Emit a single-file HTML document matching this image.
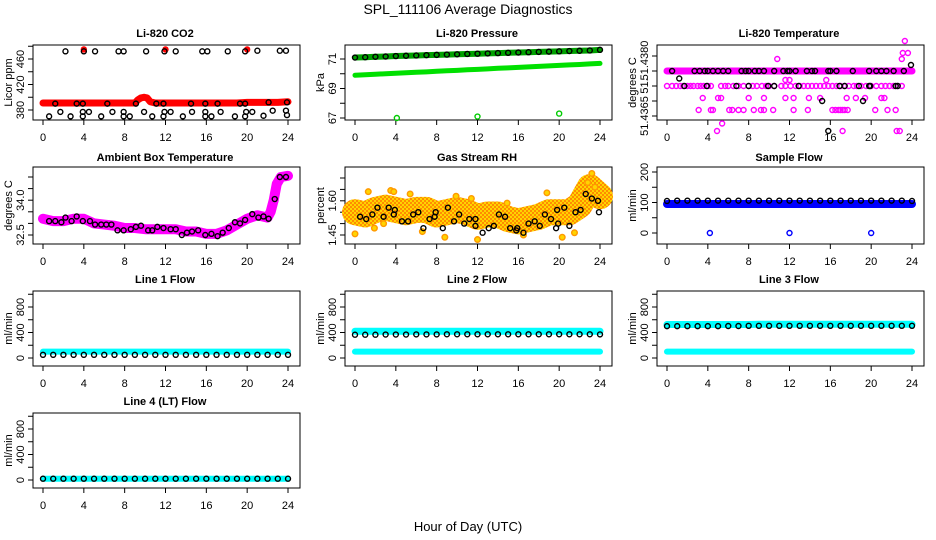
<!DOCTYPE html>
<html><head><meta charset="utf-8"><style>
html,body{margin:0;padding:0;background:#fff;}
svg{display:block;font-family:"Liberation Sans",Arial,sans-serif;}
</style></head><body>
<svg id="chart" width="936" height="540" viewBox="0 0 936 540" xmlns="http://www.w3.org/2000/svg">
<defs>
<pattern id="rhpat" width="4" height="4" patternUnits="userSpaceOnUse">
<rect width="4" height="4" fill="#ffd400"/><rect width="2" height="2" fill="#ff8c00"/><rect x="2" y="2" width="2" height="2" fill="#ff8c00"/>
</pattern>
</defs>
<text x="468" y="14" font-size="14" text-anchor="middle">SPL_111106  Average Diagnostics</text>
<text x="468" y="531" font-size="13" text-anchor="middle">Hour of Day (UTC)</text>
</svg>
<script>
// ---- data ----
const xTicks=[0,4,8,12,16,20,24];
// CO2
const co2BandHours=[0,1,2,3,4,5,6,7,8,9,9.3,9.6,9.9,10.2,10.5,11,12,13,14,15,16,17,18,19,20,21,22,23,24];
const co2BandVals=[391,391,391,391,391,391,391,391,391,391,396,399,400,399,393,391,391,391,391,391,391,391,391,391,392,392,392,392,393];
const co2DotHours=[2.2,4,5.1,7.4,7.9,10.1,11.9,13,15.6,16.1,18.1,19.8,21,23.2,23.8, 1.2,3.3,3.9,6.3,9.1,11.1,11.8,14.5,15.9,17.1,19.3,19.8,22.1,23.9, 1.7,3.9,4.5,6.8,7.9,9.9,11.9,12.5,14.6,15.9,17.4,19.9,20.5,22.5,23.8, 0.6,2.7,3.9,5.7,7.9,8.5,10.7,11.8,13.7,15.9,16.5,18.8,19.8,21.6,23.9];
const co2DotVals=[472,472,472,472,472,472,472,472,472,472,472,472,473,473,473, 390,390,390,390,390,390,390,390,390,390,390,390,392,392, 377,377,377,377,377,377,377,377,377,377,377,377,377,379,379, 370,370,370,370,370,370,370,370,370,370,370,370,370,371,372];
const co2RedHours=[4,12,20];
const co2RedVals=[475,475,475];
// Pressure
const hrs=[0,1,2,3,4,5,6,7,8,9,10,11,12,13,14,15,16,17,18,19,20,21,22,23,24];
const presLow=[69.9,69.93,69.97,70.0,70.03,70.07,70.1,70.13,70.17,70.2,70.23,70.27,70.3,70.33,70.37,70.4,70.43,70.47,70.5,70.53,70.57,70.6,70.63,70.67,70.7];
const presHigh=[71.1,71.12,71.15,71.17,71.2,71.22,71.24,71.26,71.28,71.3,71.32,71.34,71.36,71.38,71.4,71.42,71.44,71.46,71.48,71.5,71.52,71.54,71.56,71.58,71.62];
const presOutHours=[4.1,12,20];
const presOutVals=[67.0,67.1,67.3];
// Li-820 temperature
const tPinkBandVals=[51.4380,51.4380];
const tPinkHours=[0,0.5,0.9,1.3,1.6,2,2.3,2.6,3,3.3,3.6,4,4.3,5.3,5.7,6,6.5,7,7.5,8,8.4,8.8,9.3,9.7,10,10.5,11.2,11.6,12.1,12.6,13,13.4,13.8,14.2,14.6,15,15.4,15.8,16.2,16.6,17,17.4,17.8,18.3,18.6,19,19.5,20,20.5,21,21.4,21.8,22.2,22.6,23,
 3.5,5,5.3,8,9.5,11.6,12.4,13.9,15,17.6,18.5,19.4,21,21.3,
 3.1,4.3,4.5,6.1,6.4,7,7.5,8.5,9.2,9.5,10.4,12.4,13.8,16.2,16.5,16.8,17,17.2,17.4,17.7,20.4,21.6,22.4,
 5.4,4.9,17.2,22.5,22.8, 10.8,23,23.1,23.3,23.6,15.6,11.6,12];
const tPinkVals=[51.4375,51.4375,51.4375,51.4375,51.4375,51.4375,51.4375,51.4375,51.4375,51.4375,51.4375,51.4375,51.4375,51.4375,51.4375,51.4375,51.4375,51.4375,51.4375,51.4375,51.4375,51.4375,51.4375,51.4375,51.4375,51.4375,51.4375,51.4375,51.4375,51.4375,51.4375,51.4375,51.4375,51.4375,51.4375,51.4375,51.4375,51.4375,51.4375,51.4375,51.4375,51.4375,51.4375,51.4375,51.4375,51.4375,51.4375,51.4375,51.4375,51.4375,51.4375,51.4375,51.4375,51.4375,51.4375,
 51.4371,51.4371,51.4371,51.4371,51.4371,51.4371,51.4371,51.4371,51.4371,51.4371,51.4371,51.4371,51.4371,51.4371,
 51.4367,51.4367,51.4367,51.4367,51.4367,51.4367,51.4367,51.4367,51.4367,51.4367,51.4367,51.4367,51.4367,51.4367,51.4367,51.4367,51.4367,51.4367,51.4367,51.4367,51.4367,51.4367,51.4367,
 51.43625,51.4360,51.4360,51.4360,51.4360, 51.4384,51.4384,51.4386,51.4390,51.4386,51.4377,51.4377,51.4377];
const tBlackHours=[0.5,2.7,3.2,3.7,4,4.5,5,5.5,6,7.3,7.7,8,8.6,9,9.5,10.5,11.4,11.8,12,12.6,13.7,14.2,14.5,15.8,16,16.6,18.2,19.8,20.5,21,21.5,22.2,23.2, 1.7,3.9,6.8,8,9.9,10.5,12.9,16.9,17.4,18.8,19.8,19.9,22.4,22.6, 1.2,15.2,19.2,15.8,23.9];
const tBlackVals=[51.438,51.438,51.438,51.438,51.438,51.438,51.438,51.438,51.438,51.438,51.438,51.438,51.438,51.438,51.438,51.438,51.438,51.438,51.438,51.438,51.438,51.438,51.438,51.438,51.438,51.438,51.438,51.438,51.438,51.438,51.438,51.438,51.438, 51.4375,51.4375,51.4375,51.4375,51.4375,51.4375,51.4375,51.4375,51.4375,51.4375,51.4375,51.4375,51.4375,51.4375, 51.43775,51.4370,51.4370,51.4360,51.4382];
// Ambient box temperature
const ambHours=[0,1,2,3,4,5,6,7,8,9,10,11,12,13,14,15,16,17,18,19,20,21,22,22.3,22.6,22.9,23.3,24];
const ambVals=[33.2,33.1,33.1,33.2,33.2,33.0,32.95,32.9,32.8,32.8,32.75,32.75,32.75,32.75,32.65,32.65,32.55,32.55,32.7,32.95,33.2,33.35,33.25,33.5,34.0,34.7,35.0,35.05];
const ambDotHours=[0.6,1.2,1.8,2.2,2.8,3.3,3.9,4.6,5.1,5.7,6.2,6.7,7.3,7.9,8.6,9.1,9.6,10.3,10.7,11.2,11.8,12.5,13,13.6,14.1,14.6,15.2,15.9,16.5,17.1,17.6,18.2,18.8,19.3,19.8,20.5,21.1,21.6,22.1,22.7,23.2,23.8];
const ambDotVals=[33.1,33.1,33.05,33.25,33.1,33.3,33.1,33.1,32.95,32.95,32.95,32.95,32.7,32.7,32.75,32.85,32.9,32.7,32.7,32.85,32.8,32.75,32.75,32.5,32.6,32.65,32.7,32.5,32.55,32.45,32.6,32.8,33.05,33.0,33.15,33.4,33.25,33.3,33.2,34.05,35.0,35.0];
// Gas stream RH
const rhBand=[1.55,1.54,1.56,1.57,1.56,1.55,1.56,1.56,1.54,1.55,1.56,1.55,1.53,1.54,1.54,1.52,1.51,1.52,1.53,1.55,1.55,1.55,1.58,1.66,1.62];
const rhOutHours=[0,1.9,2.8,3.5,1.3,6.6,8.8,11.4,12,14.9,16.5,18.8,20.3,21.5,22.8,23.2,23.5,3.8,9.9,5.4];
const rhOutVals=[1.455,1.48,1.5,1.645,1.64,1.465,1.44,1.61,1.43,1.59,1.45,1.635,1.44,1.46,1.68,1.72,1.66,1.64,1.62,1.63];
const rhDotHours=[0.5,1.1,1.7,2.2,2.8,3.3,3.8,3.9,4.6,5.2,5.7,6.2,6.7,7.3,7.8,7.9,8.6,9.1,9.7,10.2,10.7,11.2,11.8,11.8,12.5,13.1,13.6,14.1,14.7,15.2,15.8,15.9,16.5,17,17.6,18.1,18.6,19.2,19.7,19.8,19.9,20.5,21,21.6,22.1,22.6,23.2,23.8,23.9];
const rhDotVals=[1.53,1.52,1.54,1.57,1.53,1.57,1.54,1.56,1.51,1.51,1.54,1.55,1.48,1.52,1.53,1.55,1.48,1.57,1.51,1.54,1.50,1.52,1.52,1.49,1.46,1.48,1.49,1.54,1.53,1.48,1.47,1.48,1.46,1.50,1.51,1.49,1.54,1.52,1.48,1.56,1.50,1.57,1.49,1.55,1.56,1.63,1.61,1.60,1.55];
// Sample flow
const sfBlue=[95,95,95,95,95,95,95,95,95,95,95,95,95,95,95,95,95,95,95,95,95,95,95,95,95];
const sfBlack=[105,106,106,106,106,106,106,106,106,106,106,106,106,106,106,106,106,106,106,106,106,106,106,106,105];
const sfOutHours=[4.2,12,20];
const sfOutVals=[0,0,0];
// Line flows
const l1Cyan=[100,100,100,100,100,100,100,100,100,100,100,100,100,100,100,100,100,100,100,100,100,100,100,100,100];
const l1Black=[50,50,50,50,50,50,50,50,50,50,50,50,50,50,50,50,50,50,50,50,50,50,50,50,50];
const l2CyanA=[420,420,420,420,420,420,420,420,420,420,420,420,420,420,420,420,420,420,420,420,420,420,420,420,420];
const l2CyanB=[100,100,100,100,100,100,100,100,100,100,100,100,100,100,100,100,100,100,100,100,100,100,100,100,100];
const l2Black=[365,365,365,368,368,368,370,370,370,372,372,372,372,372,372,372,372,372,372,372,372,372,372,372,370];
const l3CyanA=[525,525,525,525,525,525,525,525,525,530,530,530,530,530,530,530,530,530,530,530,530,530,530,530,530];
const l3CyanB=[100,100,100,100,100,100,100,100,100,100,100,100,100,100,100,100,100,100,100,100,100,100,100,100,100];
const l3Black=[500,500,500,500,500,500,502,502,505,505,505,505,505,505,505,505,505,505,505,505,505,505,505,505,505];
const l4Cyan=[20,20,20,20,20,20,20,20,20,20,20,20,20,20,20,20,20,20,20,20,20,20,20,20,20];
const l4Black=[20,20,20,20,20,20,20,20,20,20,20,20,20,20,20,20,20,20,20,20,20,20,20,20,20];
const flowTicks=[0,200,400,600,800,1000];
const flowLabels=["0","","400","","800",""];

// ---- drawing ----
const svg=document.getElementById('chart');
const NS='http://www.w3.org/2000/svg';
function mk(tag,attrs,parent){const e=document.createElementNS(NS,tag);for(const k in attrs)e.setAttribute(k,attrs[k]);(parent||svg).appendChild(e);return e;}
const colX=[43,355,667], rowTop=[45,167,291,413], rowBot=[120,244,366,488], rowTitle=[37,161,283,405];

function panel(name,c,r,title,ytitle,cal,yTicks,yLabels,extraLabels){
  const g=mk('g',{});
  
  
  const x0=colX[c];
  const X=h=>x0+h*245/24;
  const Y=v=>cal[1]+(v-cal[0])*(cal[3]-cal[1])/(cal[2]-cal[0]);
  const top=rowTop[r],bot=rowBot[r];
  const box=mk('rect',{x:x0-10,y:top,width:267,height:bot-top,fill:'none',stroke:'#000','stroke-width':1},g);
  
  
  const t=mk('text',{x:x0+122,y:rowTitle[r],'font-size':11,'font-weight':'bold','text-anchor':'middle'},g);
  t.textContent=title;
  
  
  const xa=mk('g',{},g);
  
  
  xTicks.forEach(v=>{mk('line',{x1:X(v),x2:X(v),y1:bot,y2:bot+5,stroke:'#000'},xa);
    const tl=mk('text',{x:X(v),y:bot+21,'font-size':11,'text-anchor':'middle'},xa);tl.textContent=v;
    
    });
  const ya=mk('g',{},g);
  
  
  const ax=x0-10;
  yTicks.forEach((v,i)=>{const y=Y(v);mk('line',{x1:ax-5,x2:ax,y1:y,y2:y,stroke:'#000'},ya);
    if(yLabels[i]){const tl=mk('text',{x:ax-9,y:y,'font-size':11,'text-anchor':'middle',transform:`rotate(-90 ${ax-9} ${y})`},ya);tl.textContent=yLabels[i];
      
      }});
  (extraLabels||[]).forEach(([txt,v])=>{const y=Y(v);const tl=mk('text',{x:ax-9,y:y,'font-size':11,'text-anchor':'middle',transform:`rotate(-90 ${ax-9} ${y})`},ya);tl.textContent=txt;
      
      });
  const yt=mk('text',{x:ax-21,y:(top+bot)/2,'font-size':11,'text-anchor':'middle',transform:`rotate(-90 ${ax-21} ${(top+bot)/2})`},g);
  yt.textContent=ytitle;
  
  
  const pg=mk('g',{},g);
  
  
  return {
    band(hs,vs,color,w,nm){const p=mk('polyline',{points:hs.map((h,i)=>X(h)+','+Y(vs[i])).join(' '),fill:'none',stroke:color,'stroke-width':w,'stroke-linejoin':'round','stroke-linecap':'round'},pg);
      
      },
    dots(hs,vs,color,nm,fill,rad){const gg=mk('g',{},pg);
      
      
      hs.forEach((h,i)=>{const cc=mk('circle',{cx:X(h),cy:Y(vs[i]),r:rad||2.5,fill:fill||'none',stroke:color,'stroke-width':1.4},gg);
        
        });}
  };
}

let p;
p=panel('co2-panel',0,0,'Li-820 CO2','Licor ppm',[380,110,460,59],[380,400,420,440,460,480],['380','','420','','460','']);
p.band(co2BandHours,co2BandVals,'#ff0000',7,'co2-red-band');
p.dots(co2RedHours,co2RedVals,'#ff0000','co2-red-points','#ff0000');
p.dots(co2DotHours,co2DotVals,'#000','co2-black-points');

p=panel('pressure-panel',1,0,'Li-820 Pressure','kPa',[67,118,71,59],[67,68,69,70,71],['67','','69','','71']);
p.band(hrs,presLow,'#00e000',5,'pressure-green-band');
p.band(hrs,presHigh,'#00a000',6,'pressure-upper-band');
p.dots(hrs,presHigh,'#000','pressure-black-points');
p.dots(presOutHours,presOutVals,'#00cc00','pressure-outliers');

p=panel('li820-temp-panel',2,0,'Li-820 Temperature','degrees C',[51.4365,116,51.4380,71],[51.4365,51.4370,51.4375,51.4380,51.4385],['51.4365','','51.','',''],[['51.4380',51.43835]]);
p.band([0,24],tPinkBandVals,'#ff00ff',7,'temp-pink-band');
p.dots(tPinkHours,tPinkVals,'#ff00ff','temp-pink-points');
p.dots(tBlackHours,tBlackVals,'#000','temp-black-points');

p=panel('ambient-temp-panel',0,1,'Ambient Box Temperature','degrees C',[32.5,235,35.0,177],[32.5,33.0,33.5,34.0,34.5,35.0],['32.5','','','34.0','','']);
p.band(ambHours,ambVals,'#ff00ff',10,'ambient-pink-band');
p.dots(ambDotHours,ambDotVals,'#000','ambient-black-points');

p=panel('rh-panel',1,1,'Gas Stream RH','percent',[1.45,235,1.70,178],[1.45,1.50,1.55,1.60,1.65,1.70],['1.45','','','1.60','','']);
p.band(hrs,rhBand,'url(#rhpat)',26,'rh-band');
p.dots(rhOutHours,rhOutVals,'#ff9900','rh-outliers','#ffd400',2.8);
p.dots(rhDotHours,rhDotVals,'#000','rh-black-points');

p=panel('sample-flow-panel',2,1,'Sample Flow','ml/min',[0,233,200,172],[0,50,100,150,200],['0','','100','','200']);
p.band(hrs,sfBlue,'#0000ff',8,'sample-blue-band');
p.dots(hrs,sfBlack,'#000','sample-black-points');
p.dots(sfOutHours,sfOutVals,'#0000ff','sample-outliers');

p=panel('line1-flow-panel',0,2,'Line 1 Flow','ml/min',[0,358,800,307],flowTicks,flowLabels);
p.band(hrs,l1Cyan,'#00ffff',6,'line1-cyan-band');
p.dots(hrs,l1Black,'#000','line1-black-points');

p=panel('line2-flow-panel',1,2,'Line 2 Flow','ml/min',[0,358,800,307],flowTicks,flowLabels);
p.band(hrs,l2CyanA,'#00ffff',7,'line2-cyan-band-upper');
p.band(hrs,l2CyanB,'#00ffff',6,'line2-cyan-band-lower');
p.dots(hrs,l2Black,'#000','line2-black-points');

p=panel('line3-flow-panel',2,2,'Line 3 Flow','ml/min',[0,358,800,307],flowTicks,flowLabels);
p.band(hrs,l3CyanA,'#00ffff',7,'line3-cyan-band-upper');
p.band(hrs,l3CyanB,'#00ffff',6,'line3-cyan-band-lower');
p.dots(hrs,l3Black,'#000','line3-black-points');

p=panel('line4-flow-panel',0,3,'Line 4 (LT) Flow','ml/min',[0,480,800,429],flowTicks,flowLabels);
p.band(hrs,l4Cyan,'#00ffff',6,'line4-cyan-band');
p.dots(hrs,l4Black,'#000','line4-black-points');
</script>
</body></html>
